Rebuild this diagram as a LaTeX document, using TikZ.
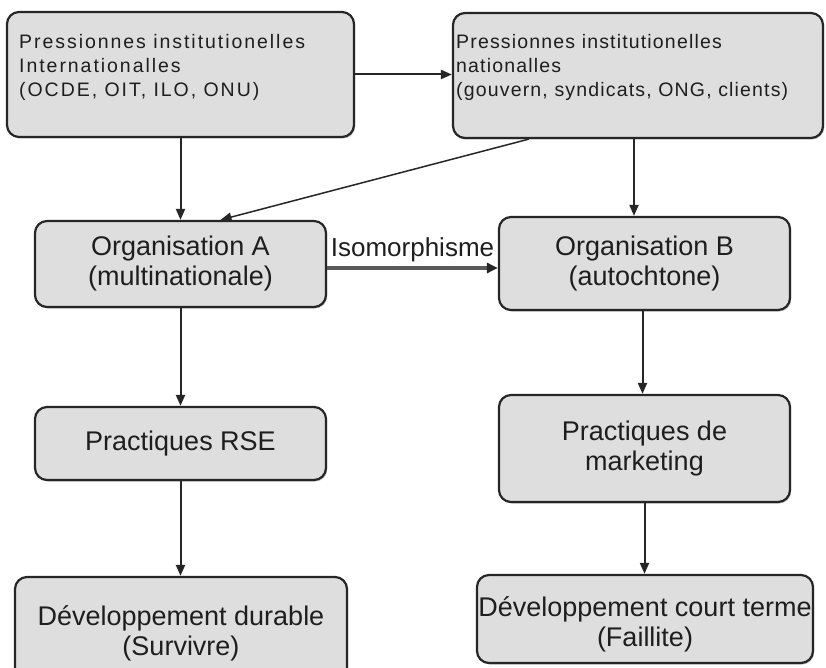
\documentclass[tikz,border=0pt]{standalone}
\usepackage{fontspec}
\setmainfont{Liberation Sans}
\newfontfamily\spacedA[LetterSpace=10]{Liberation Sans}
\newfontfamily\spacedB[LetterSpace=6]{Liberation Sans}
\usetikzlibrary{arrows.meta,shadows}
\definecolor{boxfill}{HTML}{DEDEDE}
\definecolor{boxline}{HTML}{262626}
\definecolor{isoline}{HTML}{5A5A5A}
\definecolor{txt}{HTML}{1E1E1E}
\begin{document}
\begin{tikzpicture}[x=1pt,y=-1pt,
  box/.style={draw=boxline, fill=boxfill, line width=2.2pt, rounded corners=12pt,
    inner sep=0pt, text=txt, align=center,
    font=\fontsize{27}{30}\selectfont,
    drop shadow={shadow xshift=1.2pt, shadow yshift=-1.5pt, fill=black!40, opacity=0.6}},
  toptext/.style={anchor=north west, inner sep=0pt, align=left, text=txt},
  arr/.style={draw=boxline, line width=2pt, -{Triangle[length=11pt,width=9pt]}},
  isoarr/.style={draw=isoline, line width=3.5pt, -{Triangle[length=11pt,width=10pt,fill=boxline,color=boxline]}},
  isolabel/.style={font=\fontsize{26}{28}\selectfont, text=txt, inner sep=0pt}
]
\useasboundingbox (0,0) rectangle (826,668);
\clip (0,0) rectangle (826,668);

% boxes
\node[box, minimum width=347pt, minimum height=125pt] (b1) at (180.5,74.5) {};
\node[box, minimum width=370pt, minimum height=125pt] (b2) at (638,75.5) {};
\node[toptext, font={\spacedA\fontsize{19.5}{24}\selectfont}] (b1t) at (19,34)
  {Pressionnes institutionelles\\Internationalles\\(OCDE, OIT, ILO, ONU)};
\node[toptext, font={\spacedB\fontsize{19.5}{24}\selectfont}] (b2t) at (456,34)
  {Pressionnes institutionelles\\nationalles\\(gouvern, syndicats, ONG, clients)};

\node[box, minimum width=291pt, minimum height=86pt] (oa) at (180.5,264) {Organisation A\\(multinationale)};
\node[box, minimum width=291pt, minimum height=93pt] (ob) at (644.5,263.5) {Organisation B\\(autochtone)};
\node[box, minimum width=291pt, minimum height=73pt] (rse) at (180.5,443.5) {Practiques RSE};
\node[box, minimum width=291pt, minimum height=107pt] (mk) at (644.5,448.5) {Practiques de\\marketing};
\node[box, minimum width=332pt, minimum height=113pt] (dd) at (181,633.5) {Développement durable\\(Survivre)};
\node[box, minimum width=336pt, minimum height=88pt] (ct) at (645,619) {\rule{0pt}{30pt}Développement court terme\\(Faillite)};

% connectors
\draw[arr] (b1.east) -- (b2.west |- b1.east);
\draw[arr] (b1.south) -- (oa.north);
\draw[arr] ([xshift=-4pt]b2.south) -- ([xshift=-4pt]b2.south |- ob.north);
\draw[arr, line width=1.5pt] ([xshift=77pt]b2.south west) -- ([xshift=40pt]oa.north);
\draw[isoarr] ([yshift=-4pt]oa.east) -- ([yshift=-4pt]oa.east -| ob.west)
  node[isolabel, midway, anchor=base, yshift=12pt] (iso) {Isomorphisme};
\draw[arr] (oa.south) -- (rse.north);
\draw[arr] ([xshift=-2pt]ob.south) -- ([xshift=-2pt]ob.south |- mk.north);
\draw[arr] (rse.south) -- (rse.south |- dd.north);
\draw[arr] (mk.south) -- (mk.south |- ct.north);
\end{tikzpicture}
\end{document}
